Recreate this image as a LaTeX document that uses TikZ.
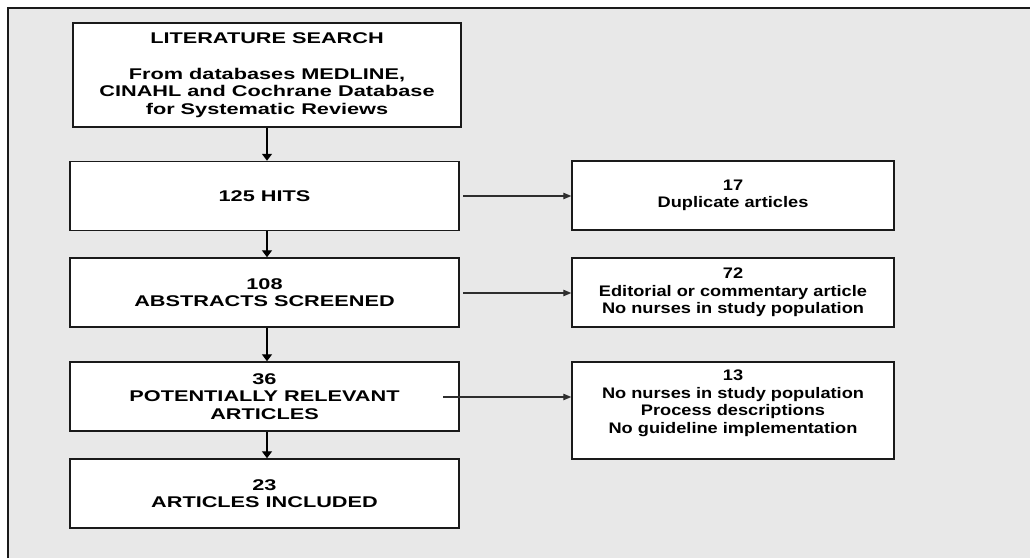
\documentclass[tikz,border=0pt]{standalone}
\usepackage{fontspec}
\setmainfont{Liberation Sans}
\newfontfamily\leftfont[FakeStretch=1.40]{Liberation Sans}
\newfontfamily\rightfont[FakeStretch=1.19]{Liberation Sans}
\usetikzlibrary{arrows.meta}
\definecolor{bggrey}{HTML}{E8E8E8}
\definecolor{edge}{HTML}{1A1A1A}
\definecolor{thinline}{HTML}{2E2E2E}
\tikzset{
  mainbox/.style={draw=edge, line width=1.5pt, fill=white, align=center, inner sep=0pt,
    minimum width=389pt, minimum height=69pt,
    font=\leftfont\bfseries\fontsize{15.5}{17.6}\selectfont},
  sidebox/.style={draw=edge, line width=1.5pt, fill=white, align=center, inner sep=0pt,
    minimum width=322pt, minimum height=69pt,
    font=\rightfont\bfseries\fontsize{15.3}{17.5}\selectfont},
  downarrow/.style={draw=black, line width=1.4pt, -{Triangle[length=7pt,width=10pt]}},
  sidearrow/.style={draw=thinline, line width=1.1pt, -{Triangle[length=8pt,width=6.5pt]}}
}
\begin{document}
\begin{tikzpicture}[x=1pt,y=-1pt]
\useasboundingbox (0,0) rectangle (1030,558);
\fill[white] (0,0) rectangle (1030,558);
\fill[bggrey] (8,8) rectangle (1030,558);
\draw[edge, line width=1.4pt] (8,558) -- (8,8) -- (1030,8);

\node[mainbox, minimum width=388pt, minimum height=104pt] (b1) at (267,75)
  {LITERATURE SEARCH\\[18.5pt]From databases MEDLINE,\\CINAHL and Cochrane Database\\for Systematic Reviews};
\node[mainbox] (b2) at (264.5,196) {125 HITS};
\node[mainbox] (b3) at (264.5,292.5) {108\\ABSTRACTS SCREENED};
\node[mainbox] (b4) at (264.5,396.5) {36\\POTENTIALLY RELEVANT\\ARTICLES};
\node[mainbox] (b5) at (264.5,493.5) {23\\ARTICLES INCLUDED};

\node[sidebox] (r1) at (733,195.5) {17\\Duplicate articles};
\node[sidebox] (r2) at (733,292.5) {72\\Editorial or commentary article\\No nurses in study population};
\node[sidebox, minimum height=97pt] (r3) at (733,410.5) {13\\No nurses in study population\\Process descriptions\\No guideline implementation\\~};

\draw[downarrow] (b1.south) -- (b1.south |- b2.north);
\draw[downarrow] (b1.south |- b2.south) -- (b1.south |- b3.north);
\draw[downarrow] (b1.south |- b3.south) -- (b1.south |- b4.north);
\draw[downarrow] (b1.south |- b4.south) -- (b1.south |- b5.north);

\coordinate (s1) at (463,196);
\coordinate (s2) at (463,293);
\coordinate (s3) at (443,397);
\draw[sidearrow] (s1) -- (s1 -| r1.west);
\draw[sidearrow] (s2) -- (s2 -| r2.west);
\draw[sidearrow] (s3) -- (s3 -| r3.west);
\end{tikzpicture}
\end{document}
